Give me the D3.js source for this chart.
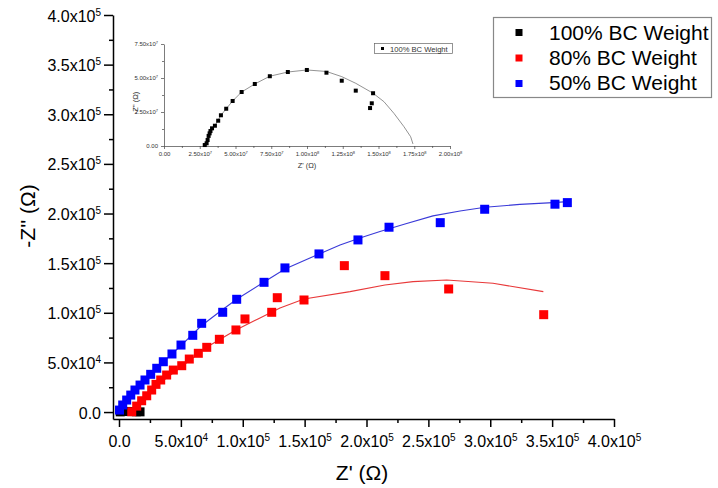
<!DOCTYPE html>
<html>
<head>
<meta charset="utf-8">
<script src="https://cdn.jsdelivr.net/npm/d3@7"></script>
<style>
    body { margin: 0; background: #fff; }
    svg { font-family: "Liberation Sans", Arial, sans-serif; }
</style>
</head>
<body>
<div id="chart"></div>
<script>
// Nyquist plot data, values in ohms: [Z', -Z'']
const mainTicks = [0, 5e4, 1e5, 1.5e5, 2e5, 2.5e5, 3e5, 3.5e5, 4e5];
const mainMinorTicks = [2.5e4, 7.5e4, 1.25e5, 1.75e5, 2.25e5, 2.75e5, 3.25e5, 3.75e5];
const insetXTicks = [0, 2.5e7, 5e7, 7.5e7, 1e8, 1.25e8, 1.5e8, 1.75e8, 2e8];
const insetYTicks = [0, 2.5e7, 5e7, 7.5e7];
const seriesNames = ["100% BC Weight", "80% BC Weight", "50% BC Weight"];

const bc100Points = [[1000, 200], [3000, 500], [6000, 600], [10000, 500], [14000, 300], [17000, 200]];

const bc80Points = [
    [10300, 300], [14300, 6000], [18300, 11400], [22400, 16400], [26400, 22200], [29900, 27900],
    [33700, 32300], [38500, 37300], [43900, 42300], [50700, 46700], [56800, 53400], [64100, 59200],
    [70900, 65200], [81100, 73300], [94500, 82700], [101800, 93800], [123400, 100500], [127900, 115200],
    [149500, 112900], [182100, 147500], [214900, 137400], [266400, 124000], [343200, 98100]
];
const bc80Fit = [
    [6500, 0], [17000, 10100], [33100, 29200], [53300, 48400], [71100, 65500], [94500, 82700],
    [112300, 93800], [130100, 104800], [149500, 113900], [186700, 121300], [214900, 128000],
    [237600, 131400], [264800, 133100], [302200, 129700], [342900, 121300]
];

const bc50Points = [
    [400, 2000], [3000, 7100], [6200, 12100], [9500, 17100], [12900, 22200], [17000, 27200],
    [21000, 32300], [25600, 38000], [30500, 44100], [35800, 50700], [42800, 58500], [50100, 67500],
    [59600, 77300], [66800, 89400], [83800, 100500], [95100, 113600], [117200, 130700], [134100, 145200],
    [161600, 159300], [193100, 173400], [218200, 186200], [259600, 190800], [295500, 204300],
    [352300, 209400], [362300, 211000]
];
const bc50Fit = [
    [0, 0], [8900, 16100], [21000, 31200], [35600, 50400], [50100, 67000], [66300, 86700],
    [83200, 102800], [95400, 113900], [117200, 131000], [134100, 144200], [154300, 155200],
    [178600, 168300], [194700, 175400], [210900, 181800], [231100, 189500], [253700, 197600],
    [275600, 202600], [295800, 206400], [324000, 209200], [350700, 211000], [365300, 212200]
];

// inset: 100% BC weight on its own scale
const insetPoints = [
    [2.85e7, 0.07e7], [2.98e7, 0.20e7], [3.05e7, 0.44e7], [3.12e7, 0.74e7], [3.19e7, 0.93e7],
    [3.25e7, 1.10e7], [3.36e7, 1.30e7], [3.56e7, 1.49e7], [3.79e7, 1.86e7], [3.98e7, 2.26e7],
    [4.35e7, 2.74e7], [4.80e7, 3.31e7], [5.43e7, 3.97e7], [6.35e7, 4.56e7], [7.40e7, 5.13e7],
    [8.66e7, 5.44e7], [9.99e7, 5.59e7], [11.36e7, 5.39e7], [12.43e7, 4.80e7], [13.41e7, 4.07e7],
    [14.62e7, 3.88e7], [14.53e7, 3.14e7], [14.41e7, 2.79e7]
];
const insetFit = [
    [2.93e7, 0], [3.19e7, 0.93e7], [3.56e7, 1.49e7], [3.98e7, 2.26e7], [4.80e7, 3.31e7],
    [5.43e7, 3.97e7], [6.35e7, 4.56e7], [7.40e7, 5.13e7], [8.66e7, 5.44e7], [9.99e7, 5.59e7],
    [11.36e7, 5.48e7], [12.43e7, 5.10e7], [13.41e7, 4.61e7], [14.62e7, 3.88e7], [15.38e7, 3.26e7],
    [16.08e7, 2.40e7], [16.78e7, 1.42e7], [17.25e7, 0.68e7], [17.41e7, 0.15e7]
];

const width = 718, height = 488;
const colors = ["#000000", "#ff0000", "#0000ff"];

const svg = d3.select("#chart").append("svg")
    .attr("width", width)
    .attr("height", height);

// writes "m.mx10" with a raised exponent
function sciText(sel, v, digits, supSize, rise) {
    sel.text(null);
    if (v === 0) {
        sel.append("tspan").text((0).toFixed(digits));
        return;
    }
    let e = Math.floor(Math.log10(v) + 1e-9);
    let m = v / Math.pow(10, e);
    sel.append("tspan").text(m.toFixed(digits) + "x10");
    sel.append("tspan").attr("dy", -rise).attr("font-size", supSize).text(e);
}

/* ---------- main chart ---------- */
let x = d3.scaleLinear().domain([-4850, 400000]).range([113, 614]);
let y = d3.scaleLinear().domain([-7000, 400000]).range([419, 15]);

let xAxis = svg.append("g")
    .attr("transform", "translate(0,419)")
    .call(d3.axisBottom(x).tickValues(mainTicks).tickSize(8).tickSizeOuter(0).tickPadding(9));
xAxis.selectAll(".tick text")
    .attr("font-size", 16).attr("font-family", "Liberation Sans, Arial, sans-serif")
    .each(function(d) { sciText(d3.select(this), d, 1, 10, 6); });

svg.append("g")
    .attr("transform", "translate(0,419)")
    .call(d3.axisBottom(x).tickValues(mainMinorTicks).tickSize(4).tickFormat(""))
    .select(".domain").remove();

let yAxis = svg.append("g")
    .attr("transform", "translate(113,0)")
    .call(d3.axisLeft(y).tickValues(mainTicks).tickSize(9).tickSizeOuter(0).tickPadding(3));
yAxis.selectAll(".tick text")
    .attr("font-size", 16).attr("font-family", "Liberation Sans, Arial, sans-serif")
    .attr("dy", "0.38em")
    .each(function(d) { sciText(d3.select(this), d, 1, 10, 6); });

svg.append("g")
    .attr("transform", "translate(113,0)")
    .call(d3.axisLeft(y).tickValues(mainMinorTicks).tickSize(4).tickFormat(""))
    .select(".domain").remove();

svg.selectAll(".domain, .tick line").attr("stroke", "#000").attr("stroke-width", 1.5);

svg.append("text")
    .attr("x", 362).attr("y", 480)
    .attr("text-anchor", "middle")
    .attr("font-size", 21)
    .text("Z' (Ω)");

svg.append("text")
    .attr("transform", "translate(35,216) rotate(-90)")
    .attr("text-anchor", "middle")
    .attr("font-size", 21)
    .text("-Z'' (Ω)");

let line = d3.line().x(d => x(d[0])).y(d => y(d[1]));

let series = [bc100Points, bc80Points, bc50Points];

svg.append("path").datum(bc80Fit)
    .attr("d", line).attr("fill", "none")
    .attr("stroke", "#e8393a").attr("stroke-width", 1.1);
svg.append("path").datum(bc50Fit)
    .attr("d", line).attr("fill", "none")
    .attr("stroke", "#3a3ad8").attr("stroke-width", 1.1);

series.forEach((pts, i) => {
    svg.append("g").selectAll("rect")
        .data(pts)
        .enter().append("rect")
        .attr("x", d => x(d[0]) - 4.5)
        .attr("y", d => y(d[1]) - 4.5)
        .attr("width", 9)
        .attr("height", 9)
        .attr("fill", colors[i]);
});

// legend
let legend = svg.append("g");
legend.append("rect")
    .attr("x", 493.5).attr("y", 17.5)
    .attr("width", 218).attr("height", 80)
    .attr("fill", "#fff").attr("stroke", "#888").attr("stroke-width", 1.2);
seriesNames.forEach((name, i) => {
    legend.append("rect")
        .attr("x", 515.5).attr("y", 29 + i * 25.5)
        .attr("width", 7).attr("height", 7)
        .attr("fill", colors[i]);
    legend.append("text")
        .attr("x", 549).attr("y", 40 + i * 25)
        .attr("font-size", 21)
        .text(name);
});

/* ---------- inset ---------- */
let ix = d3.scaleLinear().domain([0, 2e8]).range([164, 450]);
let iy = d3.scaleLinear().domain([0, 7.5e7]).range([146, 44]);
let inset = svg.append("g").attr("class", "inset");

let ixAxis = inset.append("g")
    .attr("transform", "translate(0,146)")
    .call(d3.axisBottom(ix).tickValues(insetXTicks).tickSize(3).tickSizeOuter(0).tickPadding(3));
ixAxis.selectAll(".tick text")
    .attr("font-size", 6).attr("fill", "#333")
    .each(function(d) { sciText(d3.select(this), d, 2, 4, 2.5); });
inset.append("g")
    .attr("transform", "translate(0,146)")
    .call(d3.axisBottom(ix).tickValues(d3.range(1.25e7, 2e8, 2.5e7)).tickSize(2).tickFormat(""))
    .select(".domain").remove();

let iyAxis = inset.append("g")
    .attr("transform", "translate(164,0)")
    .call(d3.axisLeft(iy).tickValues(insetYTicks).tickSize(3).tickSizeOuter(0).tickPadding(3));
iyAxis.selectAll(".tick text")
    .attr("font-size", 6).attr("fill", "#333")
    .each(function(d) { sciText(d3.select(this), d, 2, 4, 2.5); });
inset.append("g")
    .attr("transform", "translate(164,0)")
    .call(d3.axisLeft(iy).tickValues([1.25e7, 3.75e7, 6.25e7]).tickSize(2).tickFormat(""))
    .select(".domain").remove();

inset.selectAll(".domain, .tick line").attr("stroke", "#444").attr("stroke-width", 0.7);

inset.append("text")
    .attr("x", 307).attr("y", 168)
    .attr("text-anchor", "middle")
    .attr("font-size", 7.5).attr("fill", "#333")
    .text("Z' (Ω)");
inset.append("text")
    .attr("transform", "translate(138,103) rotate(-90)")
    .attr("text-anchor", "middle")
    .attr("font-size", 7.5).attr("fill", "#333")
    .text("-Z'' (Ω)");

inset.append("path").datum(insetFit)
    .attr("d", d3.line().x(d => ix(d[0])).y(d => iy(d[1])))
    .attr("fill", "none").attr("stroke", "#777").attr("stroke-width", 0.8);

inset.append("g").selectAll("rect")
    .data(insetPoints)
    .enter().append("rect")
    .attr("x", d => ix(d[0]) - 2)
    .attr("y", d => iy(d[1]) - 2)
    .attr("width", 4).attr("height", 4)
    .attr("fill", "#000");

inset.append("rect")
    .attr("x", 374.5).attr("y", 43.5)
    .attr("width", 78).attr("height", 10)
    .attr("fill", "#fff").attr("stroke", "#666").attr("stroke-width", 0.7);
inset.append("rect")
    .attr("x", 381).attr("y", 47).attr("width", 3).attr("height", 3).attr("fill", "#000");
inset.append("text")
    .attr("x", 390).attr("y", 51.5)
    .attr("font-size", 7.6).attr("fill", "#333")
    .text(seriesNames[0]);
</script>
</body>
</html>
